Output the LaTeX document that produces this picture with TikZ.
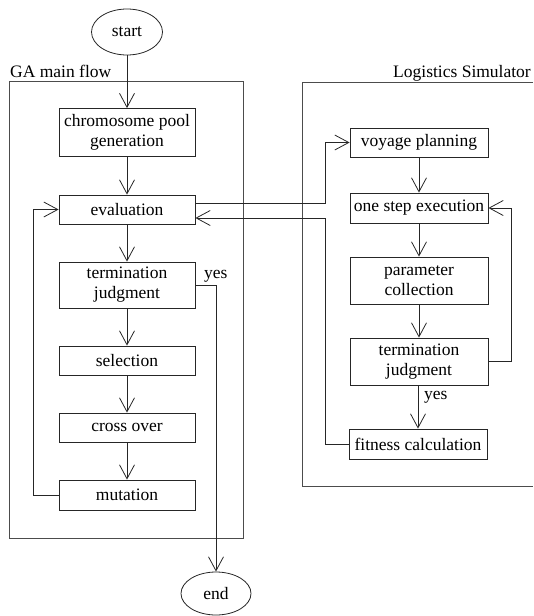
\documentclass[tikz,border=0pt]{standalone}
\usepackage{fontspec}
\setmainfont{Liberation Serif}
\usetikzlibrary{arrows.meta,shapes.geometric}
\tikzset{
  every picture/.style={x=1pt,y=-1pt},
  ln/.style={line width=0.8pt, draw=black!85},
  arr/.style={ln, -{Straight Barb[length=14pt,width=15pt,line width=0.8pt]}},
  box/.style={ln, rectangle, inner sep=0pt, align=center, font=\fontsize{17.5}{20}\selectfont},
  lbox/.style={box, minimum width=136pt},
  rbox/.style={box, minimum width=138pt},
  oval/.style={ln, ellipse, inner sep=0pt, minimum width=71pt, minimum height=46pt, font=\fontsize{17.5}{20}\selectfont},
  lbl/.style={inner sep=0pt, font=\fontsize{17.5}{20}\selectfont},
  frame/.style={line width=0.8pt, draw=black!70}
}
\begin{document}
\begin{tikzpicture}
\useasboundingbox (0,0) rectangle (533,616);
% frames
\draw[frame] (9,81) rectangle (243,538);
\draw[frame] (533,82) -- (302,82) -- (302,486) -- (533,486);
\node[lbl, anchor=base west] (galbl) at (10,77) {GA main flow};
\node[lbl, anchor=base east] (simlbl) at (531,77) {Logistics Simulator};
% GA nodes
\node[oval] (start) at (127,32) {start};
\node[lbox, minimum height=48pt] (pool) at (127,132.5) {chromosome pool\\generation};
\node[lbox, minimum height=29pt] (eval) at (127,209.5) {evaluation};
\node[lbox, minimum height=46pt] (term) at (127,285) {termination\\judgment};
\node[lbox, minimum height=29pt] (sel) at (127,360.5) {selection};
\node[lbox, minimum height=29pt] (cross) at (127,427.5) {cross over};
\node[lbox, minimum height=30pt] (mut) at (127,495) {mutation};
\node[oval, minimum width=70pt, minimum height=43pt] (end) at (216,593.5) {end};
\node[lbl, anchor=base west] (yes1) at (204,278) {yes};
% simulator nodes
\node[rbox, minimum height=29pt] (voy) at (419,142.5) {voyage planning};
\node[rbox, minimum height=30pt] (step) at (419,208) {one step execution};
\node[rbox, minimum height=47pt] (param) at (419,280.5) {parameter\\collection};
\node[rbox, minimum height=47pt] (term2) at (419,361.5) {termination\\judgment};
\node[rbox, minimum height=30pt] (fit) at (418,444) {fitness calculation};
\node[lbl, anchor=base west] (yes2) at (424,399) {yes};
% GA arrows
\draw[arr] (start) -- (pool);
\draw[arr] (pool) -- (eval);
\draw[arr] (eval) -- (term);
\draw[arr] (term) -- (sel);
\draw[arr] (sel) -- (cross);
\draw[arr] (cross) -- (mut);
\draw[arr] (mut.west) -- (33,495) |- (eval.west);
\draw[arr] (term.east) -| (end.north);
% simulator arrows
\draw[arr] (voy) -- (step);
\draw[arr] (step) -- (param);
\draw[arr] (param) -- (term2);
\draw[arr] (term2.south -| fit.north) -- (fit.north);
\draw[arr] (term2.east) -- (511,361.5) |- (step.east);
% cross connections
\draw[arr] ([yshift=6.5pt]eval.east) -- (325,203) |- (voy.west);
\draw[arr] (fit.west) -- (325,444) |- ([yshift=-8.5pt]eval.east);
\end{tikzpicture}
\end{document}
